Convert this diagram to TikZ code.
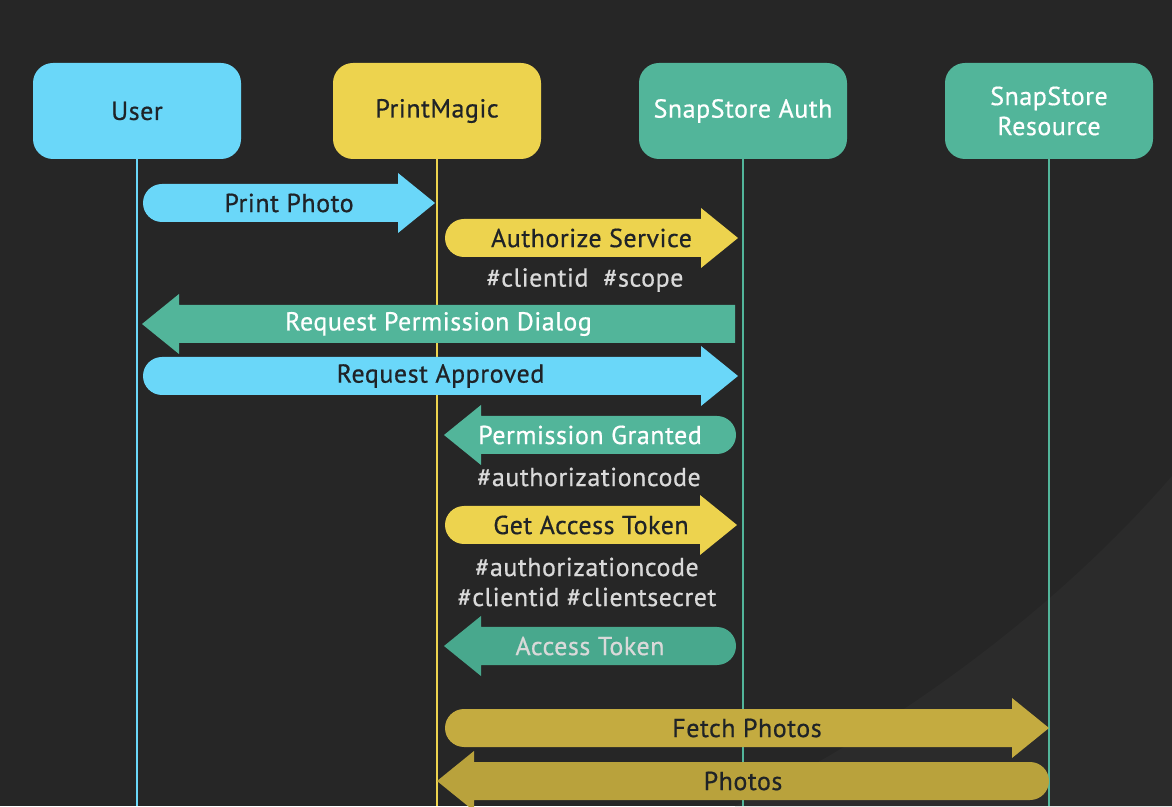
\documentclass[tikz,border=0pt]{standalone}
\usepackage{fontspec}
\setmainfont{PT Sans}[FakeBold=0.6,LetterSpace=2]
\usetikzlibrary{calc}
\definecolor{bgdark}{HTML}{262626}
\definecolor{bglight}{HTML}{2B2B2B}
\definecolor{userblue}{HTML}{6AD7F9}
\definecolor{pmyellow}{HTML}{EDD34E}
\definecolor{snapteal}{HTML}{52B59A}
\definecolor{tokteal}{HTML}{48A88D}
\definecolor{fetchgold}{HTML}{C4AB40}
\definecolor{photogold}{HTML}{B9A23C}
\definecolor{inkdark}{HTML}{1F2327}
\definecolor{hashgrey}{HTML}{D9D9D9}

% message pointing right: colour, name, text colour, label
\newcommand{\msgright}[4]{%
  \fill[#1] ([xshift=19pt,yshift=19pt]#2-s) -- ([xshift=-37pt,yshift=19pt]#2-e)
    -- ([xshift=-37pt,yshift=30pt]#2-e) -- (#2-e) -- ([xshift=-37pt,yshift=-30pt]#2-e)
    -- ([xshift=-37pt,yshift=-19pt]#2-e) -- ([xshift=19pt,yshift=-19pt]#2-s)
    arc[start angle=270,end angle=90,radius=19pt] -- cycle;
  \node[msgtext,text=#3] (#2) at ($(#2-s)!0.5!(#2-e)$) {#4};}
% message pointing left, round tail on the right
\newcommand{\msgleft}[4]{%
  \fill[#1] ([xshift=-19pt,yshift=19pt]#2-s) -- ([xshift=37pt,yshift=19pt]#2-e)
    -- ([xshift=37pt,yshift=30pt]#2-e) -- (#2-e) -- ([xshift=37pt,yshift=-30pt]#2-e)
    -- ([xshift=37pt,yshift=-19pt]#2-e) -- ([xshift=-19pt,yshift=-19pt]#2-s)
    arc[start angle=-90,end angle=90,radius=19pt] -- cycle;
  \node[msgtext,text=#3] (#2) at ($(#2-s)!0.5!(#2-e)$) {#4};}

\begin{document}
\begin{tikzpicture}[x=1pt,y=1pt,
    actor/.style={rounded corners=20pt,minimum width=208pt,minimum height=96pt,align=center,
      font=\fontsize{26}{30}\selectfont},
    msgtext/.style={font=\fontsize{26}{30}\selectfont,inner sep=0pt},
    hashtext/.style={font=\fontsize{26}{30}\selectfont,text=hashgrey,align=center,inner sep=0pt},
    life/.style={line width=2pt}]
\useasboundingbox (0,0) rectangle (1172,806);
\fill[bgdark] (0,0) rectangle (1172,806);
\fill[bglight] (735,0) .. controls (900,80) and (1060,200) .. (1172,330) -- (1172,0) -- cycle;

% actors
\node[actor,fill=userblue,text=inkdark] (user) at (137,695) {User};
\node[actor,fill=pmyellow,text=inkdark] (pm) at (437,695) {PrintMagic};
\node[actor,fill=snapteal,text=white] (auth) at (743,695) {SnapStore Auth};
\node[actor,fill=snapteal,text=white] (res) at (1049,695) {SnapStore\\Resource};

% lifelines
\coordinate (userend) at (137,0);
\coordinate (pmend) at (437,0);
\coordinate (authend) at (743,0);
\coordinate (resend) at (1049,0);
\draw[life,userblue] (user.south) -- (userend);
\draw[life,pmyellow] (pm.south) -- (pmend);
\draw[life,snapteal] (auth.south) -- (authend);
\draw[life,snapteal] (res.south) -- (resend);

% messages
\coordinate (print-s) at (143,603); \coordinate (print-e) at (435,603);
\msgright{userblue}{print}{inkdark}{Print Photo}

\coordinate (authz-s) at (445,568); \coordinate (authz-e) at (738,568);
\msgright{pmyellow}{authz}{inkdark}{Authorize Service}
\node[hashtext] (scope) at (585,526) {\#clientid\ \ \#scope};

\coordinate (dialog-s) at (735,482); \coordinate (dialog-e) at (142,482);
\fill[snapteal] (dialog-s) ++(0,19) -- ([xshift=37pt,yshift=19pt]dialog-e)
  -- ([xshift=37pt,yshift=30pt]dialog-e) -- (dialog-e) -- ([xshift=37pt,yshift=-30pt]dialog-e)
  -- ([xshift=37pt,yshift=-19pt]dialog-e) -- ([yshift=-19pt]dialog-s) -- cycle;
\node[msgtext,text=white] (dialog) at ($(dialog-s)!0.5!(dialog-e)$) {Request Permission Dialog};

\coordinate (approved-s) at (143,430); \coordinate (approved-e) at (738,430);
\msgright{userblue}{approved}{inkdark}{Request Approved}

\coordinate (granted-s) at (736,371); \coordinate (granted-e) at (444,371);
\msgleft{snapteal}{granted}{white}{Permission Granted}
\node[hashtext] (code) at (589,329) {\#authorizationcode};

\coordinate (gettok-s) at (445,281); \coordinate (gettok-e) at (737,281);
\msgright{pmyellow}{gettok}{inkdark}{Get Access Token}
\node[hashtext] (secret) at (587,224) {\#authorizationcode\\\#clientid \#clientsecret};

\coordinate (token-s) at (736,160); \coordinate (token-e) at (444,160);
\msgleft{tokteal}{token}{hashgrey}{Access Token}

\coordinate (fetch-s) at (445,78); \coordinate (fetch-e) at (1049,78);
\msgright{fetchgold}{fetch}{inkdark}{Fetch Photos}

\coordinate (photos-s) at (1049,25); \coordinate (photos-e) at (437,25);
\msgleft{photogold}{photos}{inkdark}{Photos}
\end{tikzpicture}
\end{document}
